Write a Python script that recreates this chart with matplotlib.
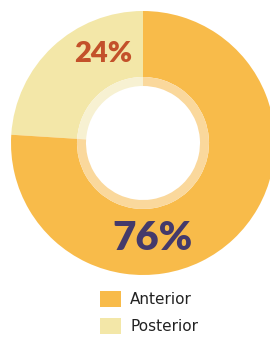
import matplotlib
matplotlib.use("Agg")
import matplotlib.pyplot as plt
from matplotlib.patches import Patch

labels = ["Anterior", "Posterior"]
values = [76, 24]
colors = ["#F8BB4A", "#F3E7A8"]
inner_colors = ["#FAD89C", "#F7F1D2"]
pct_colors = ["#443A6B", "#C3512A"]

W, H = 270, 337
fig = plt.figure(figsize=(W / 100, H / 100), dpi=100)
ax = fig.add_axes([0, 0, 1, 1])

cx, cy = 143, H - 143
# posterior first so it sits top-left, starting at 12 o'clock
order = [1, 0]
ax.pie([values[i] for i in order], colors=[colors[i] for i in order],
       startangle=90, counterclock=True, center=(cx, cy), radius=132,
       wedgeprops=dict(width=66, linewidth=0))
ax.pie([values[i] for i in order], colors=[inner_colors[i] for i in order],
       startangle=90, counterclock=True, center=(cx, cy), radius=66,
       wedgeprops=dict(width=9, linewidth=0))

ax.text(cx - 40, cy + 89, f"{values[1]}%", color=pct_colors[1], fontsize=21,
        family="Lato", fontweight="heavy", ha="center", va="center")
ax.text(cx + 9, cy - 96, f"{values[0]}%", color=pct_colors[0], fontsize=29,
        family="Lato", fontweight="heavy", ha="center", va="center")

ax.set_xlim(0, W)
ax.set_ylim(0, H)
ax.set_aspect("equal")
ax.axis("off")

handles = [Patch(facecolor=c, edgecolor="none") for c in colors]
leg = fig.legend(handles, labels, loc="upper left",
                 bbox_to_anchor=(100 / W, 1 - 291 / H),
                 frameon=False, handlelength=1.37, handleheight=1.2,
                 labelspacing=0.75, handletextpad=0.6, borderpad=0, borderaxespad=0,
                 prop=dict(family="DejaVu Sans", size=11))
for t in leg.get_texts():
    t.set_color("#222222")

fig.savefig("out.png", dpi=100)
